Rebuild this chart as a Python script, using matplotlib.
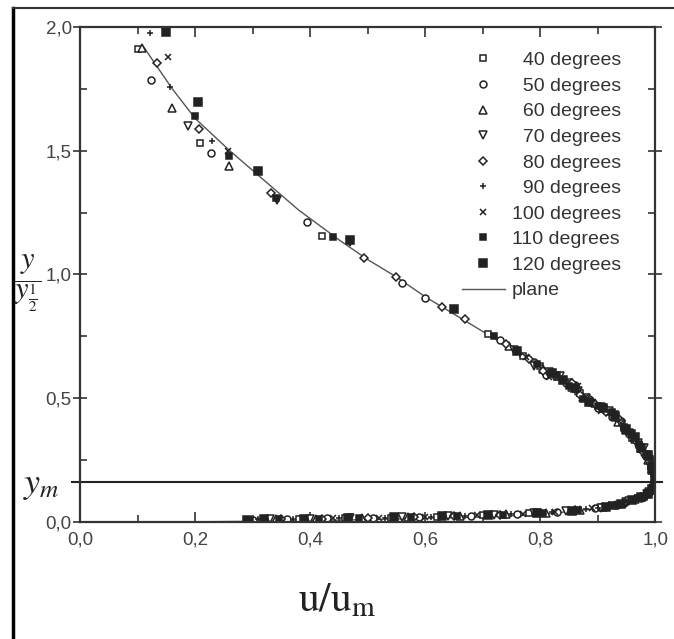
#import plt and np
from matplotlib import pyplot as plt
from matplotlib.lines import Line2D
from matplotlib.ticker import MultipleLocator, FuncFormatter

plt.rcParams['font.family'] = ['Liberation Sans', 'DejaVu Sans']
plt.rcParams['mathtext.fontset'] = 'stix'

#legend labels for each jet angle
labels = ['40 degrees', '50 degrees', '60 degrees', '70 degrees', '80 degrees',
          '90 degrees', '100 degrees', '110 degrees', '120 degrees']

#measured points (u/um, y/y_half) for each angle
u40 = [0.101, 0.209, 0.42, 0.71, 0.77, 0.83, 0.87, 0.91, 0.945, 0.975, 0.993,
       0.80, 0.85, 0.89, 0.93, 0.96, 0.985, 1.0, 0.98, 0.94,
       0.996, 0.96, 0.91, 0.85, 0.78, 0.70, 0.62, 0.54, 0.46, 0.38, 0.32]
y40 = [1.91, 1.531, 1.155, 0.76, 0.67, 0.585, 0.52, 0.455, 0.38, 0.295, 0.225,
       0.63, 0.565, 0.48, 0.435, 0.34, 0.275, 0.165, 0.105, 0.074,
       0.135, 0.09, 0.06, 0.046, 0.035, 0.027, 0.022, 0.018, 0.015, 0.013, 0.011]

u50 = [0.124, 0.227, 0.395, 0.56, 0.60, 0.73, 0.79, 0.845, 0.885, 0.925, 0.955, 0.982, 0.998,
       0.81, 0.86, 0.90, 0.94, 0.97, 0.99, 1.0, 0.975, 0.93,
       0.99, 0.945, 0.895, 0.83, 0.76, 0.68, 0.59, 0.51, 0.43, 0.36, 0.30]
y50 = [1.786, 1.49, 1.21, 0.966, 0.905, 0.735, 0.645, 0.56, 0.495, 0.425, 0.355, 0.27, 0.19,
       0.595, 0.555, 0.46, 0.41, 0.32, 0.26, 0.155, 0.098, 0.068,
       0.12, 0.078, 0.056, 0.041, 0.033, 0.026, 0.02, 0.017, 0.015, 0.012, 0.01]

u60 = [0.108, 0.159, 0.258, 0.745, 0.805, 0.855, 0.895, 0.935, 0.965, 0.988,
       0.82, 0.875, 0.915, 0.95, 0.975, 0.995, 0.997, 0.965, 0.91,
       0.998, 0.975, 0.93, 0.87, 0.81, 0.74, 0.66, 0.57, 0.49, 0.41, 0.34]
y60 = [1.915, 1.673, 1.438, 0.71, 0.62, 0.545, 0.48, 0.405, 0.335, 0.25,
       0.605, 0.505, 0.46, 0.37, 0.315, 0.21, 0.13, 0.092, 0.06,
       0.145, 0.1, 0.07, 0.05, 0.038, 0.031, 0.024, 0.019, 0.016, 0.014, 0.012]

u70 = [0.188, 0.342, 0.47, 0.755, 0.815, 0.865, 0.905, 0.94, 0.97, 0.99,
       0.79, 0.835, 0.88, 0.92, 0.955, 0.98, 1.0, 0.99, 0.95,
       0.985, 0.955, 0.905, 0.845, 0.79, 0.72, 0.64, 0.56, 0.47, 0.40, 0.33]
y70 = [1.60, 1.30, 1.13, 0.695, 0.605, 0.53, 0.465, 0.395, 0.32, 0.235,
       0.63, 0.59, 0.5, 0.45, 0.36, 0.3, 0.185, 0.122, 0.08,
       0.115, 0.085, 0.058, 0.044, 0.036, 0.029, 0.023, 0.019, 0.016, 0.013, 0.011]

u80 = [0.133, 0.206, 0.332, 0.494, 0.55, 0.63, 0.67, 0.74, 0.78, 0.825, 0.87, 0.915, 0.95, 0.978, 0.996,
       0.805, 0.855, 0.895, 0.935, 0.965, 0.99, 1.0, 0.985, 0.945,
       0.993, 0.965, 0.92, 0.86, 0.80, 0.73, 0.65, 0.58, 0.50, 0.42, 0.35]
y80 = [1.855, 1.588, 1.33, 1.067, 0.99, 0.87, 0.82, 0.72, 0.66, 0.59, 0.515, 0.445, 0.37, 0.285, 0.2,
       0.61, 0.56, 0.475, 0.42, 0.33, 0.265, 0.17, 0.108, 0.076,
       0.128, 0.093, 0.064, 0.047, 0.037, 0.03, 0.024, 0.02, 0.017, 0.014, 0.012]

u90 = [0.122, 0.157, 0.229, 0.765, 0.835, 0.89, 0.93, 0.96, 0.985,
       0.80, 0.86, 0.91, 0.945, 0.975, 0.995, 0.997, 0.96, 0.90,
       0.98, 0.94, 0.88, 0.82, 0.75, 0.67, 0.61, 0.53, 0.45, 0.37, 0.31]
y90 = [1.976, 1.757, 1.54, 0.68, 0.575, 0.49, 0.415, 0.345, 0.26,
       0.635, 0.525, 0.465, 0.375, 0.31, 0.23, 0.14, 0.087, 0.058,
       0.108, 0.075, 0.052, 0.04, 0.032, 0.025, 0.021, 0.018, 0.015, 0.013, 0.011]

u100 = [0.152, 0.257, 0.775, 0.84, 0.88, 0.92, 0.955, 0.98, 1.0,
        0.815, 0.865, 0.905, 0.94, 0.97, 0.992, 0.993, 0.97, 0.92,
        0.99, 0.95, 0.89, 0.825, 0.77, 0.69, 0.60, 0.52, 0.44, 0.39]
y100 = [1.88, 1.50, 0.665, 0.57, 0.505, 0.44, 0.36, 0.28, 0.175,
        0.585, 0.55, 0.45, 0.4, 0.315, 0.25, 0.127, 0.094, 0.063,
        0.118, 0.082, 0.055, 0.041, 0.034, 0.027, 0.021, 0.018, 0.015, 0.013]

u110 = [0.199, 0.258, 0.34, 0.44, 0.72, 0.795, 0.85, 0.90, 0.945, 0.972, 0.992,
        0.83, 0.875, 0.925, 0.96, 0.985, 1.0, 1.0, 0.98, 0.935,
        0.997, 0.97, 0.925, 0.865, 0.805, 0.735, 0.655, 0.575, 0.485, 0.415, 0.345, 0.295]
y110 = [1.64, 1.478, 1.31, 1.15, 0.75, 0.64, 0.55, 0.47, 0.385, 0.31, 0.23,
        0.595, 0.495, 0.445, 0.36, 0.265, 0.2, 0.15, 0.103, 0.07,
        0.14, 0.097, 0.067, 0.049, 0.038, 0.03, 0.024, 0.02, 0.016, 0.014, 0.012, 0.01]

u120 = [0.15, 0.205, 0.309, 0.47, 0.65, 0.76, 0.82, 0.86, 0.91, 0.95, 0.975, 0.994,
        0.84, 0.885, 0.93, 0.965, 0.988, 1.0, 0.995, 0.975, 0.94,
        0.988, 0.96, 0.915, 0.855, 0.795, 0.71, 0.63, 0.545, 0.465, 0.39, 0.32, 0.29]
y120 = [1.98, 1.697, 1.418, 1.14, 0.86, 0.69, 0.60, 0.54, 0.46, 0.375, 0.30, 0.215,
        0.575, 0.485, 0.43, 0.345, 0.27, 0.18, 0.135, 0.1, 0.073,
        0.112, 0.088, 0.062, 0.045, 0.037, 0.028, 0.023, 0.019, 0.016, 0.013, 0.011, 0.01]

#plane wall jet curve
u_plane = [0.11, 0.16, 0.20, 0.26, 0.31, 0.38, 0.45, 0.50, 0.55, 0.60, 0.65, 0.70, 0.75,
           0.80, 0.85, 0.90, 0.94, 0.97, 0.99, 1.0, 0.99, 0.96, 0.90, 0.80, 0.70, 0.60,
           0.50, 0.40, 0.30, 0.20, 0.0]
y_plane = [1.92, 1.75, 1.63, 1.50, 1.40, 1.26, 1.14, 1.06, 0.99, 0.91, 0.84, 0.77, 0.70,
           0.62, 0.55, 0.47, 0.39, 0.31, 0.24, 0.17, 0.12, 0.085, 0.055, 0.03, 0.02, 0.015,
           0.01, 0.006, 0.003, 0.001, 0.0]

y_m = 0.16

series = [(u40, y40), (u50, y50), (u60, y60), (u70, y70), (u80, y80),
          (u90, y90), (u100, y100), (u110, y110), (u120, y120)]

ink = '#222222'
#marker, size, filled
styles = [('s', 5, False), ('o', 5, False), ('^', 5.5, False), ('v', 5.5, False),
          ('D', 4.5, False), ('+', 4, True), ('x', 4.5, True), ('s', 4, True), ('s', 5.5, True)]

fig = plt.figure(figsize=(6.74, 6.39), dpi=100)
ax = fig.add_axes([0.119, 0.183, 0.853, 0.775])

for (u, y), lab, (m, ms, filled) in zip(series, labels, styles):
    pad = '\u2007' if len(lab) < 11 else ''
    ax.plot(u, y, linestyle='none', marker=m, markersize=ms, markeredgewidth=1.1,
            markeredgecolor=ink, markerfacecolor=ink if filled else 'white',
            label=pad + lab)

ax.plot(u_plane, y_plane, color='#555555', lw=1.0, label='plane', zorder=1)

#horizontal line at y_m
ax.axhline(y_m, xmin=-0.015, xmax=1.012, color=ink, lw=1.5, clip_on=False)

ax.set_xlim(0, 1.0)
ax.set_ylim(0, 2.0)

ax.xaxis.set_major_locator(MultipleLocator(0.2))
ax.xaxis.set_minor_locator(MultipleLocator(0.1))
ax.yaxis.set_major_locator(MultipleLocator(0.5))
ax.yaxis.set_minor_locator(MultipleLocator(0.25))
comma = FuncFormatter(lambda v, p: ('%.1f' % v).replace('.', ','))
ax.xaxis.set_major_formatter(comma)
ax.yaxis.set_major_formatter(comma)

ax.tick_params(which='both', direction='in', top=True, right=True, colors='#333333',
               labelcolor='#444444', labelsize=13.5, width=1.2)
ax.tick_params(which='major', length=7)
ax.tick_params(which='minor', length=5)
ax.tick_params(axis='y', which='major', direction='inout', length=10, pad=1)
ax.tick_params(axis='x', which='major', pad=7)

for s in ax.spines.values():
    s.set_color('#333333')
    s.set_linewidth(1.6)

leg = ax.legend(loc='upper left', bbox_to_anchor=(0.664, 0.95), frameon=False,
                fontsize=14, handlelength=2.2, labelspacing=0.41, handletextpad=0.36,
                borderpad=0, borderaxespad=0)
for t in leg.get_texts():
    t.set_color('#333333')

#axis labels
fig.text(0.042, 0.556, r'$\dfrac{y}{y_{\frac{1}{2}}}$', fontsize=22, ha='center', va='center',
         color=ink)
fig.text(0.062, 0.242, r'$y_m$', fontsize=26, ha='center', va='center', color=ink)
fig.text(0.50, 0.061, r'$\mathrm{u/u_m}$', fontsize=30, ha='center', va='center', color=ink)

#outer frame of the scanned figure
fig.add_artist(Line2D([0.019, 0.019], [0.0, 0.987], color='black', lw=2.5))
fig.add_artist(Line2D([0.019, 1.0], [0.987, 0.987], color='#333333', lw=1.5))

plt.savefig('out.png')
